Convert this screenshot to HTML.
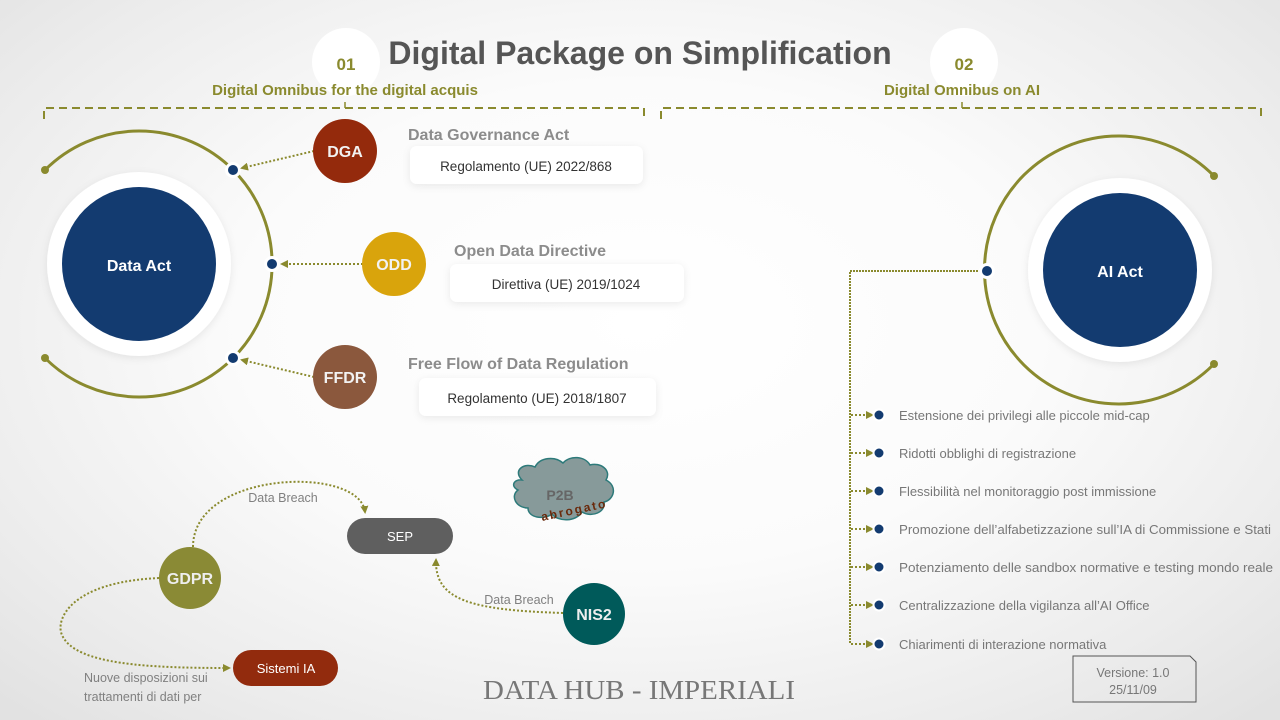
<!DOCTYPE html>
<html><head><meta charset="utf-8"><style>
html,body{margin:0;padding:0}
body{width:1280px;height:720px;overflow:hidden;background:radial-gradient(ellipse 70% 75% at 50% 45%,#ffffff 0%,#fbfbfb 45%,#ececec 80%,#e2e2e2 100%);font-family:"Liberation Sans",sans-serif}
svg{display:block}
</style></head><body>
<svg width="1280" height="720" viewBox="0 0 1280 720" xmlns="http://www.w3.org/2000/svg" font-family="Liberation Sans, sans-serif">
<defs>
<marker id="ar" markerWidth="8" markerHeight="8" refX="6" refY="4" orient="auto" markerUnits="userSpaceOnUse"><path d="M0,0 L8,4 L0,8 Z" fill="#8a8a2e"/></marker>
<filter id="sh" x="-30%" y="-30%" width="160%" height="160%"><feDropShadow dx="0" dy="2" stdDeviation="4" flood-color="#000" flood-opacity="0.08"/></filter>
</defs>

<circle cx="346" cy="62" r="34" fill="#fff"/>
<circle cx="964" cy="62" r="34" fill="#fff"/>
<text x="346" y="70" text-anchor="middle" font-size="17" font-weight="bold" fill="#8a8a2e">01</text>
<text x="964" y="70" text-anchor="middle" font-size="17" font-weight="bold" fill="#8a8a2e">02</text>
<text x="640" y="64" text-anchor="middle" font-size="32" font-weight="bold" fill="#555">Digital Package on Simplification</text>
<text x="345" y="95" text-anchor="middle" font-size="15" font-weight="bold" fill="#8a8a2e">Digital Omnibus for the digital acquis</text>
<text x="962" y="95" text-anchor="middle" font-size="15" font-weight="bold" fill="#8a8a2e">Digital Omnibus on AI</text>

<g stroke="#8a8a2e" stroke-width="2" fill="none" stroke-dasharray="8,5">
<path d="M44,119 L44,108 L644,108 L644,119"/>
<path d="M661,119 L661,108 L1261,108 L1261,119"/>
</g>
<g stroke="#8a8a2e" stroke-width="1.5"><line x1="345" y1="108" x2="345" y2="102"/><line x1="962" y1="108" x2="962" y2="102"/></g>

<circle cx="139" cy="264" r="92" fill="#fff" filter="url(#sh)"/>
<circle cx="139" cy="264" r="77" fill="#133b70"/>
<text x="139" y="271" text-anchor="middle" font-size="16" font-weight="bold" fill="#fff">Data Act</text>
<path d="M45,170 A133,133 0 1 1 45,358" fill="none" stroke="#8a8a2e" stroke-width="3"/>
<circle cx="45" cy="170" r="4" fill="#8a8a2e"/><circle cx="45" cy="358" r="4" fill="#8a8a2e"/>
<g fill="#133b70" stroke="#fff" stroke-width="3">
<circle cx="233" cy="170" r="6.5"/><circle cx="272" cy="264" r="6.5"/><circle cx="233" cy="358" r="6.5"/>
</g>
<g stroke="#8a8a2e" stroke-width="2" stroke-dasharray="2,2" fill="none" marker-end="url(#ar)">
<line x1="314" y1="151" x2="242" y2="168"/>
<line x1="363" y1="264" x2="282" y2="264"/>
<line x1="314" y1="377" x2="242" y2="360"/>
</g>
<circle cx="345" cy="151" r="32" fill="#942a0c"/>
<circle cx="394" cy="264" r="32" fill="#d9a40c"/>
<circle cx="345" cy="377" r="32" fill="#8b583d"/>
<g font-size="16" font-weight="bold" fill="#f2f2f2" text-anchor="middle">
<text x="345" y="157">DGA</text><text x="394" y="270">ODD</text><text x="345" y="383">FFDR</text>
</g>
<g font-size="16" font-weight="bold" fill="#8c8c8c">
<text x="408" y="140">Data Governance Act</text>
<text x="454" y="256">Open Data Directive</text>
<text x="408" y="369">Free Flow of Data Regulation</text>
</g>
<g fill="#fff" filter="url(#sh)">
<rect x="410" y="146" width="233" height="38" rx="7"/>
<rect x="450" y="264" width="234" height="38" rx="7"/>
<rect x="419" y="378" width="237" height="38" rx="7"/>
</g>
<g font-size="13.5" fill="#333" text-anchor="middle">
<text x="526" y="171">Regolamento (UE) 2022/868</text>
<text x="566" y="289">Direttiva (UE) 2019/1024</text>
<text x="537" y="403">Regolamento (UE) 2018/1807</text>
</g>

<circle cx="1120" cy="270" r="92" fill="#fff" filter="url(#sh)"/>
<circle cx="1120" cy="270" r="77" fill="#133b70"/>
<text x="1120" y="277" text-anchor="middle" font-size="16" font-weight="bold" fill="#fff">AI Act</text>
<path d="M1214,176 A134,134 0 1 0 1214,364" fill="none" stroke="#8a8a2e" stroke-width="3"/>
<circle cx="1214" cy="176" r="4" fill="#8a8a2e"/><circle cx="1214" cy="364" r="4" fill="#8a8a2e"/>
<path d="M981,271 L850,271 L850,644" fill="none" stroke="#8a8a2e" stroke-width="2" stroke-dasharray="2,1"/>
<circle cx="987" cy="271" r="6.5" fill="#133b70" stroke="#fff" stroke-width="3"/>

<g stroke="#8a8a2e" stroke-width="2" stroke-dasharray="2,2">
<line x1="851" y1="415" x2="868" y2="415"/><line x1="851" y1="453" x2="868" y2="453"/>
<line x1="851" y1="491" x2="868" y2="491"/><line x1="851" y1="529" x2="868" y2="529"/>
<line x1="851" y1="567" x2="868" y2="567"/><line x1="851" y1="605" x2="868" y2="605"/>
<line x1="851" y1="644" x2="868" y2="644"/>
</g>
<g fill="#8a8a2e">
<path d="M866,411 L874,415 L866,419Z"/><path d="M866,449 L874,453 L866,457Z"/><path d="M866,487 L874,491 L866,495Z"/>
<path d="M866,525 L874,529 L866,533Z"/><path d="M866,563 L874,567 L866,571Z"/><path d="M866,601 L874,605 L866,609Z"/>
<path d="M866,640 L874,644 L866,648Z"/>
</g>
<g fill="#133b70" stroke="#fff" stroke-width="2">
<circle cx="879" cy="415" r="5.5"/><circle cx="879" cy="453" r="5.5"/><circle cx="879" cy="491" r="5.5"/>
<circle cx="879" cy="529" r="5.5"/><circle cx="879" cy="567" r="5.5"/><circle cx="879" cy="605" r="5.5"/>
<circle cx="879" cy="644" r="5.5"/>
</g>
<g font-size="13" fill="#777">
<text x="899" y="420">Estensione dei privilegi alle piccole mid-cap</text>
<text x="899" y="458">Ridotti obblighi di registrazione</text>
<text x="899" y="496">Flessibilità nel monitoraggio post immissione</text>
<text x="899" y="534" textLength="372" lengthAdjust="spacingAndGlyphs">Promozione dell’alfabetizzazione sull’IA di Commissione e Stati</text>
<text x="899" y="572" textLength="374" lengthAdjust="spacingAndGlyphs">Potenziamento delle sandbox normative e testing mondo reale</text>
<text x="899" y="610">Centralizzazione della vigilanza all’AI Office</text>
<text x="899" y="649">Chiarimenti di interazione normativa</text>
</g>

<path d="M1073,656 L1190,656 L1196,662 L1196,702 L1073,702 Z" fill="none" stroke="#555" stroke-width="1"/>
<text x="1133" y="677" text-anchor="middle" font-size="12.5" fill="#777">Versione: 1.0</text>
<text x="1133" y="694" text-anchor="middle" font-size="12.5" fill="#777">25/11/09</text>

<g stroke="#8a8a2e" stroke-width="2" stroke-dasharray="2,2" fill="none" marker-end="url(#ar)">
<path d="M193,547 C193,470 360,465 365,512"/>
<path d="M563,613 C470,610 435,600 436,560"/>
<path d="M159,578 C70,582 55,620 62,635 C75,665 150,668 229,668"/>
</g>
<rect x="347" y="518" width="106" height="36" rx="18" fill="#5f5f5f"/>
<text x="400" y="541" text-anchor="middle" font-size="13" fill="#fff">SEP</text>
<circle cx="190" cy="578" r="31" fill="#8a8a35"/>
<text x="190" y="584" text-anchor="middle" font-size="16" font-weight="bold" fill="#eee">GDPR</text>
<circle cx="594" cy="614" r="31" fill="#005a5a"/>
<text x="594" y="620" text-anchor="middle" font-size="16" font-weight="bold" fill="#eee">NIS2</text>
<rect x="233" y="650" width="105" height="36" rx="18" fill="#922b0d"/>
<text x="286" y="673" text-anchor="middle" font-size="13" fill="#fff">Sistemi IA</text>
<g font-size="12.5" fill="#808080">
<text x="283" y="502" text-anchor="middle">Data Breach</text>
<text x="519" y="604" text-anchor="middle">Data Breach</text>
<text x="84" y="682">Nuove disposizioni sui</text>
<text x="84" y="701">trattamenti di dati per</text>
</g>

<path d="M522,480 C512,470 525,462 535,467 C540,457 555,456 563,463 C570,455 585,456 590,465 C600,462 612,470 606,480 C618,486 614,500 604,502 C606,512 592,518 582,512 C576,522 558,522 552,514 C544,520 528,518 528,508 C516,508 510,496 518,490 C510,486 514,479 522,480Z" fill="#879a9a" stroke="#2d7a7a" stroke-width="1.5"/>
<text x="560" y="500" text-anchor="middle" font-size="14" font-weight="bold" fill="#666">P2B</text>
<text x="575" y="514" text-anchor="middle" font-size="12" font-weight="bold" fill="#6a2a0c" transform="rotate(-12 575 514)" letter-spacing="2">abrogato</text>

<text x="483" y="699" font-family="Liberation Serif, serif" font-size="27" fill="#777" textLength="312" lengthAdjust="spacingAndGlyphs">DATA HUB - IMPERIALI</text>
</svg>
</body></html>
